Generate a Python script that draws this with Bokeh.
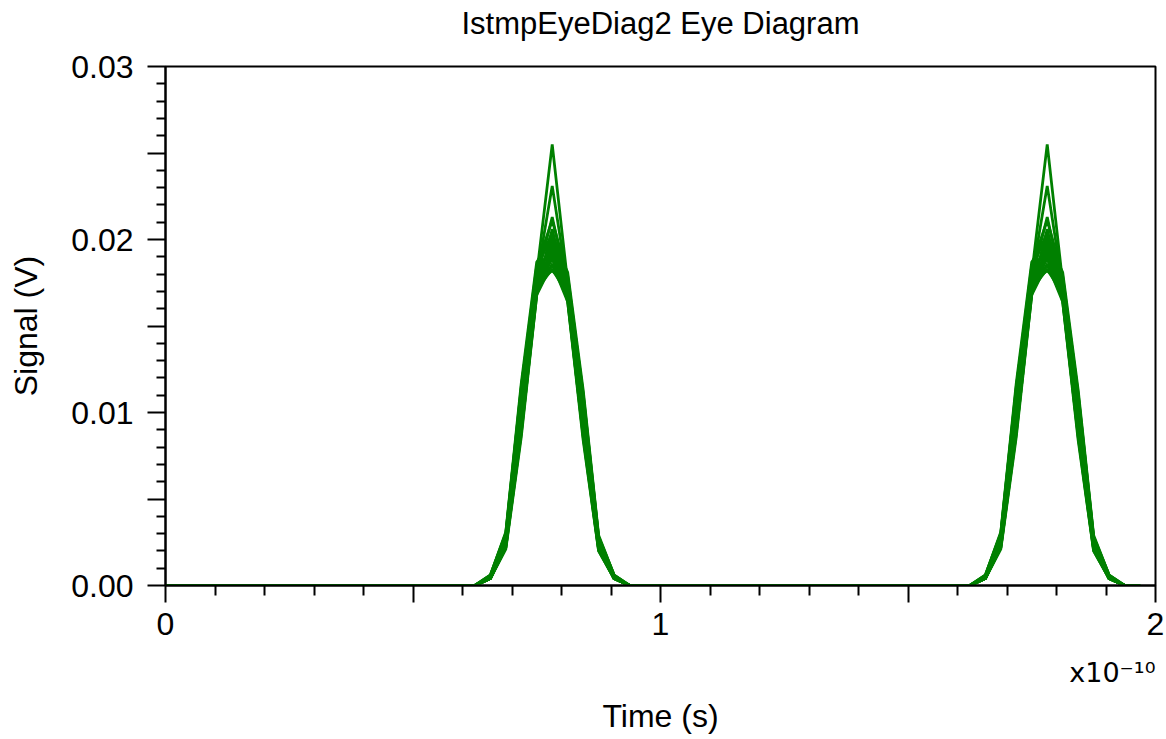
import numpy as np
from bokeh.plotting import figure
from bokeh.models import Range1d, FixedTicker, CustomJSTickFormatter, Title
from bokeh.embed import file_html
from bokeh.resources import INLINE

# ---- data (time in units of 1e-10 s) ----
samples_per_ui = 32
n_samples = 64
peak_indices = [25, 57]          # sample index of the pulse peak in each UI
pulse_offsets = [-4, -3, -2, -1, 0, 1, 2, 3, 4]

# each trace: signal (V) at the samples around a pulse peak
pulse_shapes = [
    [0.0005, 0.0027, 0.0102, 0.0180, 0.0255, 0.0175, 0.0100, 0.0024, 0.0005],
    [0.0005, 0.0026, 0.0100, 0.0178, 0.0231, 0.0173, 0.0098, 0.0023, 0.0005],
    [0.0004, 0.0025, 0.0099, 0.0177, 0.0213, 0.0172, 0.0097, 0.0023, 0.0004],
    [0.0006, 0.0030, 0.0114, 0.0185, 0.0211, 0.0179, 0.0110, 0.0028, 0.0006],
    [0.0004, 0.0022, 0.0088, 0.0170, 0.0206, 0.0166, 0.0086, 0.0020, 0.0004],
    [0.0005, 0.0028, 0.0108, 0.0183, 0.0204, 0.0177, 0.0105, 0.0026, 0.0005],
    [0.0004, 0.0024, 0.0094, 0.0174, 0.0202, 0.0169, 0.0092, 0.0022, 0.0004],
    [0.0006, 0.0031, 0.0117, 0.0187, 0.0200, 0.0181, 0.0113, 0.0029, 0.0006],
    [0.0004, 0.0021, 0.0086, 0.0168, 0.0198, 0.0164, 0.0084, 0.0020, 0.0004],
    [0.0005, 0.0027, 0.0105, 0.0180, 0.0197, 0.0175, 0.0102, 0.0025, 0.0005],
    [0.0004, 0.0025, 0.0097, 0.0173, 0.0195, 0.0169, 0.0095, 0.0023, 0.0004],
    [0.0005, 0.0029, 0.0111, 0.0183, 0.0194, 0.0178, 0.0108, 0.0027, 0.0005],
    [0.0004, 0.0023, 0.0091, 0.0170, 0.0192, 0.0166, 0.0089, 0.0021, 0.0004],
    [0.0005, 0.0026, 0.0101, 0.0177, 0.0191, 0.0172, 0.0099, 0.0024, 0.0005],
    [0.0004, 0.0024, 0.0095, 0.0172, 0.0189, 0.0167, 0.0093, 0.0022, 0.0004],
    [0.0006, 0.0030, 0.0115, 0.0181, 0.0188, 0.0177, 0.0111, 0.0028, 0.0006],
    [0.0004, 0.0022, 0.0089, 0.0168, 0.0186, 0.0164, 0.0087, 0.0021, 0.0004],
    [0.0005, 0.0027, 0.0104, 0.0176, 0.0185, 0.0171, 0.0101, 0.0025, 0.0005],
    [0.0004, 0.0025, 0.0098, 0.0171, 0.0183, 0.0168, 0.0096, 0.0023, 0.0004],
    [0.0005, 0.0028, 0.0109, 0.0175, 0.0182, 0.0172, 0.0106, 0.0026, 0.0005],
]

x_major_ticks = [0, 0.5, 1, 1.5, 2]
x_minor_ticks = [0.1, 0.2, 0.3, 0.4, 0.6, 0.7, 0.8, 0.9,
                 1.1, 1.2, 1.3, 1.4, 1.6, 1.7, 1.8, 1.9]
y_major_ticks = [0, 0.005, 0.01, 0.015, 0.02, 0.025, 0.03]
y_minor_ticks = [0.001, 0.002, 0.003, 0.004, 0.006, 0.007, 0.008, 0.009,
                 0.011, 0.012, 0.013, 0.014, 0.016, 0.017, 0.018, 0.019,
                 0.021, 0.022, 0.023, 0.024, 0.026, 0.027, 0.028, 0.029]

title_text = "IstmpEyeDiag2 Eye Diagram"
x_label = "Time (s)"
x_scale_label = "x10\u207b\u00b9\u2070"
y_label = "Signal (V)"

# ---- build traces ----
t = np.arange(n_samples) / samples_per_ui
xs, ys = [], []
for shape in pulse_shapes:
    y = np.zeros(n_samples)
    for pk in peak_indices:
        for off, v in zip(pulse_offsets, shape):
            y[pk + off] = v
    xs.append(list(t))
    ys.append(list(y))

FONT = "Liberation Sans"
FS = "32px"

p = figure(width=1166, height=739, output_backend="svg", toolbar_location=None,
           x_range=Range1d(0, 2), y_range=Range1d(0, 0.03),
           min_border_left=165, min_border_right=11, min_border_top=65,
           min_border_bottom=154, background_fill_color="white",
           border_fill_color="white")

p.multi_line(xs, ys, line_color="#008000", line_width=2.8)

p.grid.visible = False
p.outline_line_color = "black"
p.outline_line_width = 2

p.title.text = title_text
p.title.align = "center"
p.title.text_font = FONT
p.title.text_font_size = "31px"
p.title.text_font_style = "normal"
p.title.text_color = "black"
p.title.standoff = 6

# spacer between the title and the frame
p.add_layout(Title(text=" ", align="center", text_font=FONT,
                   text_font_size="19px", text_color="white", standoff=0), "above")

for ax in (p.xaxis[0], p.yaxis[0]):
    ax.axis_line_width = 2
    ax.axis_line_color = "black"
    ax.major_tick_line_width = 2
    ax.minor_tick_line_width = 2
    ax.major_tick_line_color = "black"
    ax.minor_tick_line_color = "black"
    ax.major_tick_in = 0
    ax.minor_tick_in = 0
    ax.major_label_text_font = FONT
    ax.major_label_text_font_size = FS
    ax.major_label_text_color = "black"
    ax.axis_label_text_font = FONT
    ax.axis_label_text_font_size = FS
    ax.axis_label_text_font_style = "normal"
    ax.axis_label_text_color = "black"

xa = p.xaxis[0]
xa.ticker = FixedTicker(ticks=x_major_ticks, minor_ticks=x_minor_ticks)
xa.formatter = CustomJSTickFormatter(code="return Number.isInteger(tick) ? tick.toFixed(0) : '';")
xa.major_tick_out = 17
xa.minor_tick_out = 10
xa.major_label_standoff = 10
xa.axis_label = None

ya = p.yaxis[0]
ya.ticker = FixedTicker(ticks=y_major_ticks, minor_ticks=y_minor_ticks)
ya.formatter = CustomJSTickFormatter(
    code="var v = tick*100; return (Math.abs(v - Math.round(v)) < 1e-6) ? tick.toFixed(2) : '';")
ya.major_tick_out = 18
ya.minor_tick_out = 9
ya.major_label_standoff = 14
ya.axis_label = y_label
ya.axis_label_standoff = 24

# below the x axis: spacer, scale factor (right), spacer, then the axis title
p.add_layout(Title(text=" ", align="center", text_font=FONT,
                   text_font_size="13px", text_color="white", standoff=0), "below")
p.add_layout(Title(text=x_scale_label, align="right", text_font="DejaVu Sans",
                   text_font_size="27px", text_font_style="normal",
                   text_color="black", standoff=0), "below")
p.add_layout(Title(text=" ", align="center", text_font=FONT,
                   text_font_size="6px", text_color="white", standoff=0), "below")
p.add_layout(Title(text=x_label, align="center", text_font=FONT,
                   text_font_size=FS, text_font_style="normal",
                   text_color="black", standoff=0), "below")

open("out.html", "w").write(file_html(p, INLINE))
